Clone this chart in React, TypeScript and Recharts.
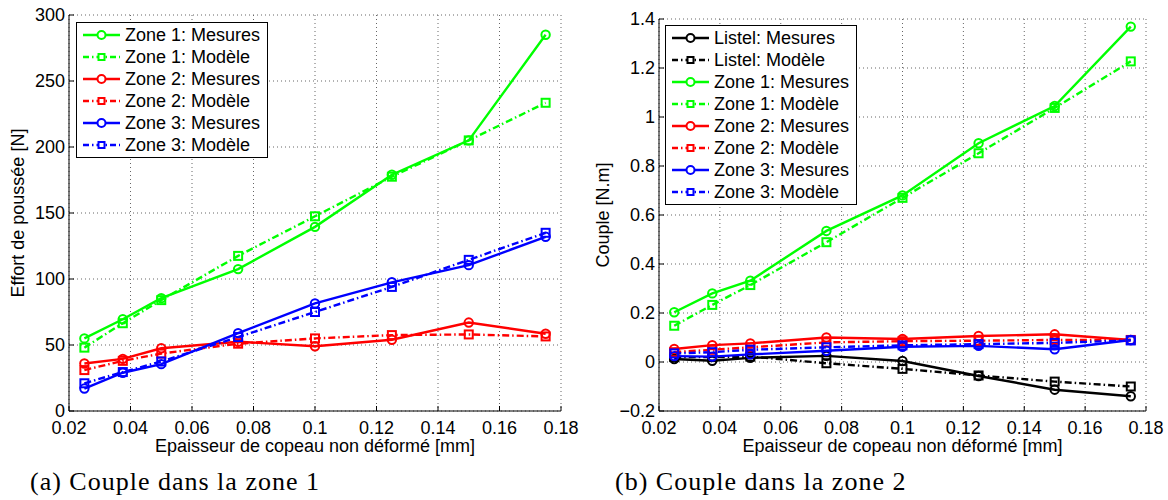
// Effort de poussée / Couple vs épaisseur de copeau — two MATLAB-style line charts
import { LineChart, Line, XAxis, YAxis, CartesianGrid, Legend } from 'recharts';

const epaisseur = [0.025, 0.0375, 0.05, 0.075, 0.1, 0.125, 0.15, 0.175];
const xTicks = [0.02, 0.04, 0.06, 0.08, 0.1, 0.12, 0.14, 0.16, 0.18];

// (a) effort de poussée [N]
const effortZone1Mesures = [55, 69.5, 85.5, 107.5, 139.5, 179, 205, 285];
const effortZone1Modele = [48, 66.5, 84, 117.5, 147.5, 177.5, 205, 233.5];
const effortZone2Mesures = [36, 39.5, 47.5, 52.5, 49, 54, 67, 58.5];
const effortZone2Modele = [31, 38, 43.5, 51, 55, 57.5, 58, 56.5];
const effortZone3Mesures = [17, 29, 35.5, 59, 81.5, 97.5, 110.5, 132];
const effortZone3Modele = [21, 29.5, 37.5, 56, 75, 94, 114.5, 135];
const effortTicks = [0, 50, 100, 150, 200, 250, 300];

// (b) couple [N.m]
const coupleListelMesures = [0.012, 0.005, 0.017, 0.025, 0.004, -0.057, -0.113, -0.14];
const coupleListelModele = [0.02, 0.02, 0.022, -0.005, -0.028, -0.055, -0.08, -0.1];
const coupleZone1Mesures = [0.203, 0.28, 0.332, 0.535, 0.68, 0.893, 1.045, 1.369];
const coupleZone1Modele = [0.148, 0.233, 0.314, 0.489, 0.67, 0.852, 1.037, 1.227];
const coupleZone2Mesures = [0.053, 0.069, 0.076, 0.1, 0.094, 0.106, 0.113, 0.09];
const coupleZone2Modele = [0.04, 0.05, 0.06, 0.08, 0.085, 0.087, 0.09, 0.09];
const coupleZone3Mesures = [0.024, 0.022, 0.031, 0.046, 0.062, 0.066, 0.052, 0.09];
const coupleZone3Modele = [0.035, 0.04, 0.05, 0.06, 0.068, 0.073, 0.078, 0.088];
const coupleTicks = [-0.2, 0, 0.2, 0.4, 0.6, 0.8, 1, 1.2, 1.4];

const GREEN = '#00ff00';
const RED = '#ff0000';
const BLUE = '#0000ff';
const BLACK = '#000000';
const DASHDOT = '7 3 1.5 3';
const FONT = '"Liberation Sans", Arial, sans-serif';

type Serie = { key: string; name: string; color: string; modele: boolean; values: number[] };

const effortSeries: Serie[] = [
  { key: 'z1m', name: 'Zone 1: Mesures', color: GREEN, modele: false, values: effortZone1Mesures },
  { key: 'z1p', name: 'Zone 1: Modèle', color: GREEN, modele: true, values: effortZone1Modele },
  { key: 'z2m', name: 'Zone 2: Mesures', color: RED, modele: false, values: effortZone2Mesures },
  { key: 'z2p', name: 'Zone 2: Modèle', color: RED, modele: true, values: effortZone2Modele },
  { key: 'z3m', name: 'Zone 3: Mesures', color: BLUE, modele: false, values: effortZone3Mesures },
  { key: 'z3p', name: 'Zone 3: Modèle', color: BLUE, modele: true, values: effortZone3Modele },
];

const coupleSeries: Serie[] = [
  { key: 'lm', name: 'Listel: Mesures', color: BLACK, modele: false, values: coupleListelMesures },
  { key: 'lp', name: 'Listel: Modèle', color: BLACK, modele: true, values: coupleListelModele },
  { key: 'z1m', name: 'Zone 1: Mesures', color: GREEN, modele: false, values: coupleZone1Mesures },
  { key: 'z1p', name: 'Zone 1: Modèle', color: GREEN, modele: true, values: coupleZone1Modele },
  { key: 'z2m', name: 'Zone 2: Mesures', color: RED, modele: false, values: coupleZone2Mesures },
  { key: 'z2p', name: 'Zone 2: Modèle', color: RED, modele: true, values: coupleZone2Modele },
  { key: 'z3m', name: 'Zone 3: Mesures', color: BLUE, modele: false, values: coupleZone3Mesures },
  { key: 'z3p', name: 'Zone 3: Modèle', color: BLUE, modele: true, values: coupleZone3Modele },
];

const buildRows = (series: Serie[]) =>
  epaisseur.map((x, i) => {
    const row: Record<string, number> = { x };
    series.forEach(s => { row[s.key] = s.values[i]; });
    return row;
  });

const fmt = (v: number) => String(v).replace('-', '\u2212');

// eslint-disable-next-line @typescript-eslint/no-explicit-any
const squareDot = (color: string) => (p: any) => (
  <rect key={`sq-${p.index}`} x={p.cx - 4} y={p.cy - 4} width={8} height={8}
    fill="none" stroke={color} strokeWidth={2} />
);

function LegendBox({ series }: { series: Serie[] }) {
  return (
    <div style={{
      width: 192, boxSizing: 'border-box', border: '1px solid #000', background: '#fff',
      padding: '1px 0', fontFamily: FONT, fontSize: 18, color: '#000',
    }}>
      {series.map(s => (
        <div key={s.key} style={{ height: 22, display: 'flex', alignItems: 'center', paddingLeft: 6 }}>
          <svg width={37} height={22} style={{ marginRight: 5 }}>
            <line x1={0} y1={11} x2={37} y2={11} stroke={s.color} strokeWidth={2.4}
              strokeDasharray={s.modele ? '6 3 1.5 3' : undefined} />
            {s.modele
              ? <rect x={15.5} y={8} width={6} height={6} fill="#fff" stroke={s.color} strokeWidth={2} />
              : <circle cx={18.5} cy={11} r={4} fill="#fff" stroke={s.color} strokeWidth={2} />}
          </svg>
          <span style={{ whiteSpace: 'nowrap', lineHeight: '22px' }}>{s.name}</span>
        </div>
      ))}
    </div>
  );
}

interface PanelProps {
  series: Serie[];
  width: number;
  top: number;
  right: number;
  yDomain: [number, number];
  yTicks: number[];
  yLabel: string;
  yLabelX: number;
  legendPos: { left: number; top: number };
}

function Panel({ series, width, top, right, yDomain, yTicks, yLabel, yLabelX, legendPos }: PanelProps) {
  const data = buildRows(series);
  const tick = { fontSize: 18, fill: '#000', fontFamily: FONT };
  return (
    <LineChart width={width} height={500} data={data} margin={{ top, right, bottom: 39, left: 0 }}>
      <CartesianGrid stroke="#666" strokeDasharray="1 3" />
      <XAxis
        dataKey="x" type="number" domain={[0.02, 0.18]} ticks={xTicks} allowDataOverflow
        tickFormatter={fmt} tick={tick} stroke="#000" tickSize={-5} tickMargin={15} height={50}
        label={{ value: 'Epaisseur de copeau non déformé [mm]', position: 'insideBottom', offset: 9,
          style: { fontSize: 18, fill: '#000', fontFamily: FONT } }}
      />
      <YAxis
        type="number" domain={yDomain} ticks={yTicks} allowDataOverflow
        tickFormatter={fmt} tick={tick} stroke="#000" tickSize={-5} tickMargin={9} width={69}
        label={{ value: yLabel, angle: -90, position: 'insideLeft', offset: yLabelX,
          style: { fontSize: 18, fill: '#000', fontFamily: FONT, textAnchor: 'middle' } }}
      />
      <Legend layout="vertical" align="center" verticalAlign="middle"
        wrapperStyle={{ left: legendPos.left, top: legendPos.top, width: 'auto', height: 'auto' }}
        content={() => <LegendBox series={series} />} />
      {series.map(s => (
        <Line
          key={s.key}
          dataKey={s.key}
          name={s.name}
          type="linear"
          stroke={s.color}
          strokeWidth={2.4}
          strokeDasharray={s.modele ? DASHDOT : undefined}
          dot={s.modele ? squareDot(s.color) : { r: 4.2, fill: 'none', stroke: s.color, strokeWidth: 2 }}
          activeDot={false}
          isAnimationActive={false}
        />
      ))}
    </LineChart>
  );
}

export default function App() {
  const caption = { position: 'absolute' as const, top: 467, fontFamily: '"Liberation Serif", serif', fontSize: 26, letterSpacing: 1, color: '#000', whiteSpace: 'nowrap' as const };
  return (
    <div style={{ position: 'absolute', left: 0, top: 0, width: 1168, height: 500, background: '#fff', overflow: 'hidden' }}>
      <div style={{ position: 'absolute', left: 0, top: 0 }}>
        <Panel series={effortSeries} width={590} top={15} right={29} yDomain={[0, 300]} yTicks={effortTicks}
          yLabel="Effort de poussée [N]" yLabelX={18} legendPos={{ left: 76, top: 22 }} />
      </div>
      <div style={{ position: 'absolute', left: 590, top: 0 }}>
        <Panel series={coupleSeries} width={578} top={19} right={22} yDomain={[-0.2, 1.4]} yTicks={coupleTicks}
          yLabel="Couple [N.m]" yLabelX={13} legendPos={{ left: 75, top: 25 }} />
      </div>
      <div style={{ ...caption, left: 30 }}>(a) Couple dans la zone 1</div>
      <div style={{ ...caption, left: 615 }}>(b) Couple dans la zone 2</div>
    </div>
  );
}
